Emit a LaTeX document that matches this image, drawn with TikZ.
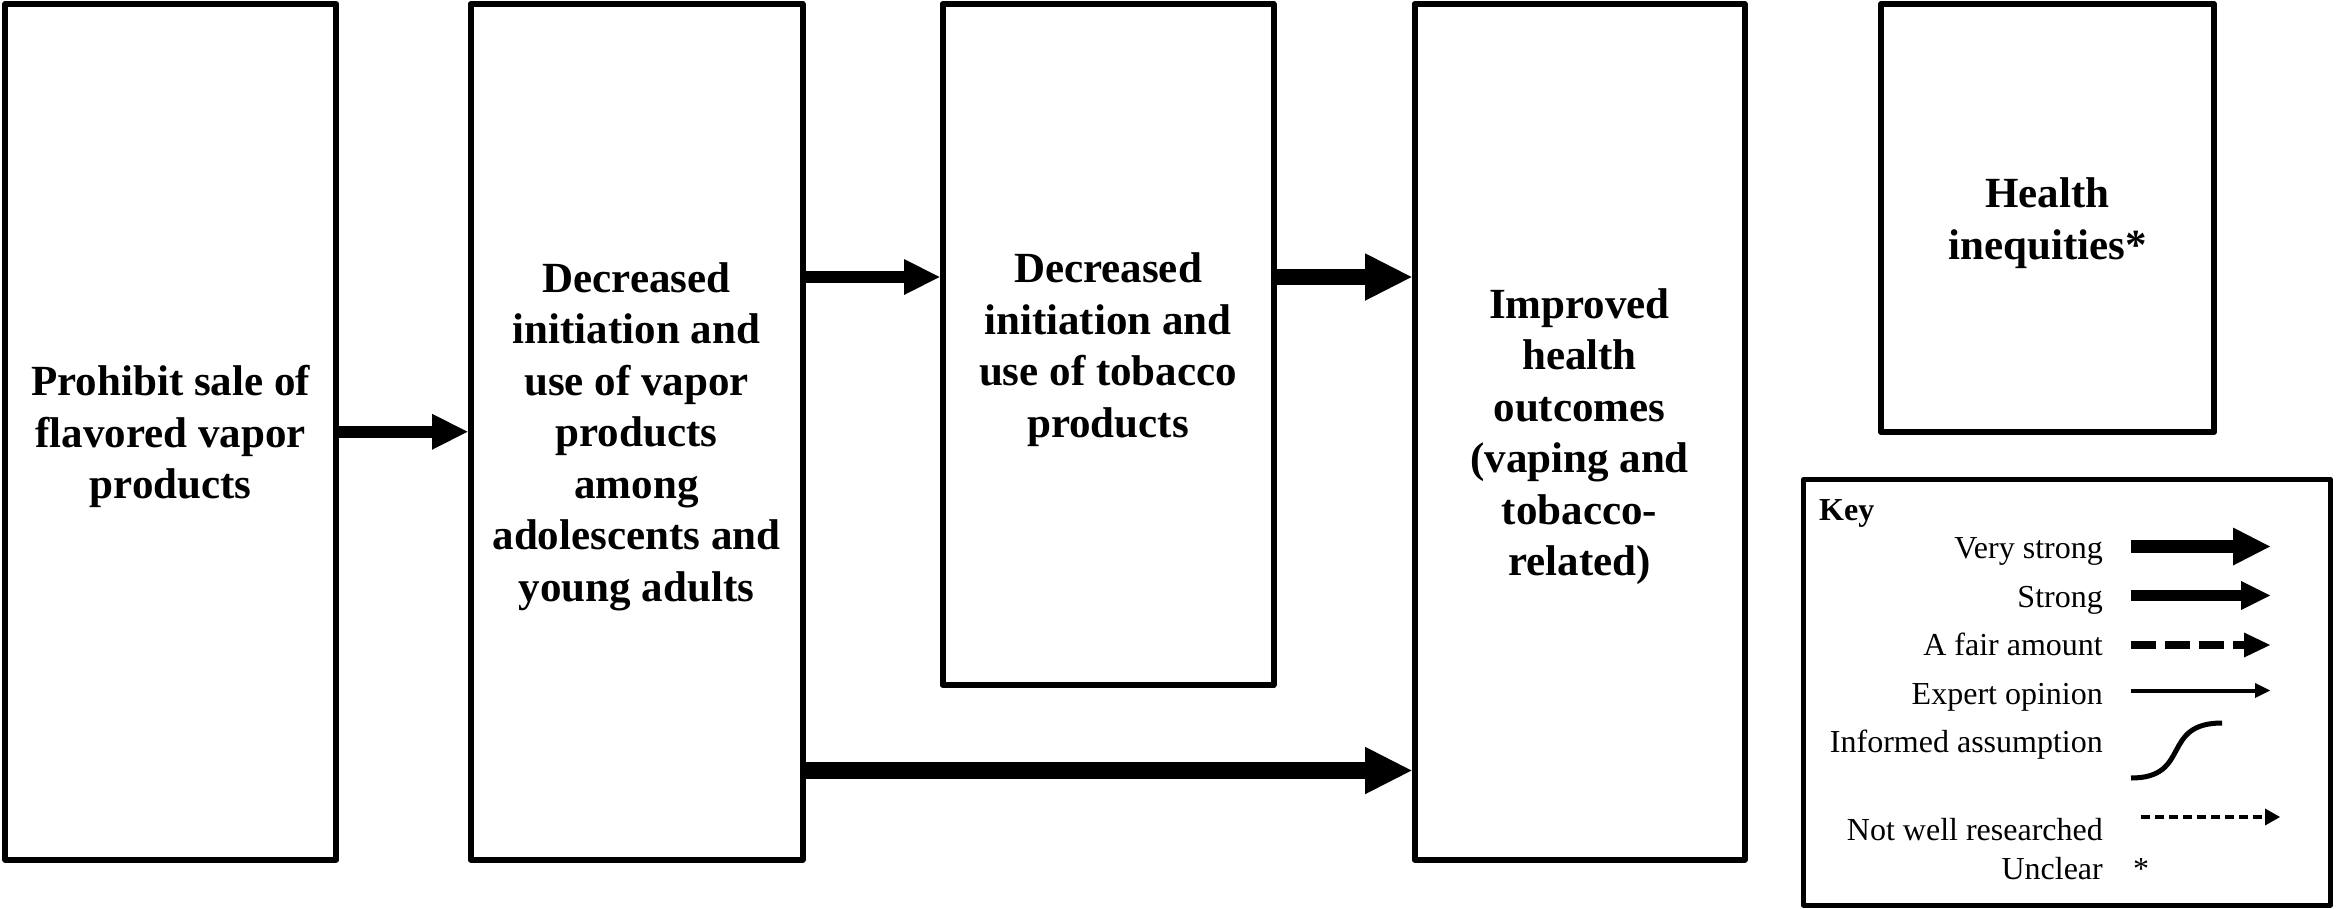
\documentclass[tikz,border=0pt]{standalone}
\usepackage{fontspec}
\setmainfont{Liberation Serif}
\usetikzlibrary{arrows.meta}
\begin{document}
\begin{tikzpicture}[x=1pt,y=-1pt,
  box/.style={draw, line width=6pt, line join=round, minimum width=331pt, inner sep=0pt},
  boxtext/.style={inner sep=0pt, align=center, font=\fontsize{43}{51.5}\selectfont\bfseries},
  keybox/.style={draw, line width=5pt, line join=round, minimum width=527pt,
    minimum height=425.5pt, inner sep=0pt},
  lbl/.style={inner sep=0pt, font=\fontsize{32}{38}\selectfont},
  strongarrow/.style={line width=12pt, -{Triangle[length=35.5pt,width=36pt,line width=0pt]}},
  vstrongarrow/.style={line width=16.5pt, -{Triangle[length=46.5pt,width=47.5pt,line width=0pt]}},
  kvstrong/.style={line width=13pt, -{Triangle[length=37pt,width=38pt,line width=0pt]}},
  kstrong/.style={line width=11pt, -{Triangle[length=29pt,width=29pt,line width=0pt]}},
  kfair/.style={line width=8pt, dash pattern=on 25pt off 9pt, -{Triangle[length=26pt,width=25pt,line width=0pt]}},
  kexpert/.style={line width=4pt, -{Triangle[length=15pt,width=15pt,line width=0pt]}},
  kassume/.style={line width=5pt},
  knotwell/.style={line width=4pt, dash pattern=on 9pt off 5pt, -{Triangle[length=15pt,width=17pt,line width=0pt]}}
]
\useasboundingbox (0,0) rectangle (2336,908);

% main boxes
\node[box, minimum height=855.5pt] (b1) at (170.75,431.75) {};
\node[box, minimum height=855.5pt, minimum width=332pt] (b2) at (636.5,431.75) {};
\node[box, minimum height=681pt] (b3) at (1108,344.5) {};
\node[box, minimum height=855.5pt, minimum width=330pt] (b4) at (1579.5,431.75) {};
\node[box, minimum height=428pt, minimum width=333pt] (b5) at (2047.5,218) {};

% box texts
\node[boxtext] (t1) at ([yshift=-5pt]b1.center) {Prohibit sale of\\flavored vapor\\products};
\node[boxtext] (t2) at ([yshift=-5pt]b2.center)
  {Decreased\\initiation and\\use of vapor\\products\\among\\adolescents and\\young adults};
\node[boxtext] (t3) at ([yshift=-5pt]b3.center) {Decreased\\initiation and\\use of tobacco\\products};
\node[boxtext] (t4) at ([yshift=-5pt]b4.center)
  {Improved\\health\\outcomes\\(vaping and\\tobacco-\\related)};
\node[boxtext] (t5) at ([yshift=-5pt]b5.center) {Health\\inequities*};

% connectors
\draw[strongarrow] (b1.east) -- (b2.west);
\coordinate (a2s) at ([yshift=154.75pt]b2.east);
\draw[strongarrow] (a2s) -- (a2s -| b3.west);
\coordinate (a3s) at ([yshift=67.5pt]b3.east);
\draw[vstrongarrow] (a3s) -- (a3s -| b4.west);
\coordinate (a4s) at ([yshift=-338.75pt]b2.east);
\draw[vstrongarrow] (a4s) -- (a4s -| b4.west);

% key
\node[keybox] (key) at (2067,692.25) {};
\node[lbl, anchor=base west, font=\fontsize{32}{38}\selectfont\bfseries] (keyt) at (1819,520) {Key};
\node[lbl, anchor=base east] (l1) at (2103,558.6) {Very strong};
\node[lbl, anchor=base east] (l2) at (2103,607.8) {Strong};
\node[lbl, anchor=base east] (l3) at (2103,655.6) {A fair amount};
\node[lbl, anchor=base east] (l4) at (2103,704) {Expert opinion};
\node[lbl, anchor=base east] (l5) at (2103,752.6) {Informed assumption};
\node[lbl, anchor=base east] (l6) at (2103,840) {Not well researched};
\node[lbl, anchor=base east] (l7) at (2103,879) {Unclear};
\node[lbl, anchor=base] (ast) at (2141,879) {*};

\coordinate (k1a) at (2131,546.5);
\coordinate (k1b) at (2270,546.5);
\draw[kvstrong] (k1a) -- (k1b);
\coordinate (k2a) at (2131,595.5);
\coordinate (k2b) at (2270,595.5);
\draw[kstrong] (k2a) -- (k2b);
\coordinate (k3a) at (2131,645);
\coordinate (k3b) at (2270,645);
\draw[kfair] (k3a) -- (k3b);
\coordinate (k4a) at (2131,690.5);
\coordinate (k4b) at (2270,690.5);
\draw[kexpert] (k4a) -- (k4b);
\coordinate (k5a) at (2131,778);
\coordinate (k5b) at (2222,723);
\draw[kassume] (k5a) .. controls (2192,778) and (2160,723) .. (k5b);
\coordinate (k6a) at (2141,817);
\coordinate (k6b) at (2280,817);
\draw[knotwell] (k6a) -- (k6b);
\end{tikzpicture}
\end{document}
